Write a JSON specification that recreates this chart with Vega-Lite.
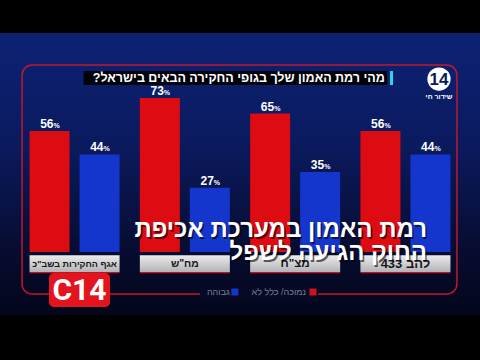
{
  "$schema": "https://vega.github.io/schema/vega-lite/v6.json",
  "width": 480,
  "height": 282,
  "autosize": "none",
  "padding": {"left": 0, "right": 0, "top": 33, "bottom": 45},
  "background": "#000000",
  "config": {"view": {"stroke": null}, "font": "Liberation Sans"},
  "data": {"values": [
    {"agency": "אגף החקירות בשב\"כ", "answer": "נמוכה/ כלל לא", "value": 56},
    {"agency": "אגף החקירות בשב\"כ", "answer": "גבוהה", "value": 44},
    {"agency": "מח\"ש", "answer": "נמוכה/ כלל לא", "value": 73},
    {"agency": "מח\"ש", "answer": "גבוהה", "value": 27},
    {"agency": "מצ\"ח", "answer": "נמוכה/ כלל לא", "value": 65},
    {"agency": "מצ\"ח", "answer": "גבוהה", "value": 35},
    {"agency": "להב 433", "answer": "נמוכה/ כלל לא", "value": 56},
    {"agency": "להב 433", "answer": "גבוהה", "value": 44}
  ]},
  "layer": [
    {
      "data": {"values": [{}]},
      "mark": {"type": "rect", "xOffset": -31, "x2Offset": 31,
        "color": {"gradient": "linear", "x1": 0, "y1": 0, "x2": 0, "y2": 1,
          "stops": [{"offset": 0, "color": "#0d2275"}, {"offset": 0.4, "color": "#0b1a5e"}, {"offset": 0.75, "color": "#070d33"}, {"offset": 1, "color": "#04061a"}]}},
      "encoding": {
        "x": {"datum": "אגף החקירות בשב\"כ", "bandPosition": 0, "axis": null,
          "scale": {"domain": ["אגף החקירות בשב\"כ", "מח\"ש", "מצ\"ח", "להב 433"], "paddingInner": 0.184, "paddingOuter": 0.268}},
        "x2": {"datum": "להב 433", "bandPosition": 1},
        "y": {"datum": 106.3, "type": "quantitative", "axis": null,
          "scale": {"domain": [-38.3, 106.3], "nice": false, "zero": false}},
        "y2": {"datum": -38.3}
      }
    },
    {
      "data": {"values": [{}]},
      "mark": {"type": "rect", "xOffset": -7.5, "x2Offset": 6.5, "fillOpacity": 0, "stroke": "#c0182c", "strokeWidth": 1.5, "cornerRadius": 10},
      "encoding": {
        "x": {"datum": "אגף החקירות בשב\"כ", "bandPosition": 0},
        "x2": {"datum": "להב 433", "bandPosition": 1},
        "y": {"datum": 89.9, "type": "quantitative"},
        "y2": {"datum": -27.5}
      }
    },
    {
      "data": {"values": [{}]},
      "mark": {"type": "rect", "fill": "#060a24"},
      "encoding": {
        "x": {"datum": "מח\"ש", "bandPosition": 0.668},
        "x2": {"datum": "מצ\"ח", "bandPosition": 0.754},
        "y": {"datum": -24.5, "type": "quantitative"},
        "y2": {"datum": -29.6}
      }
    },
    {
      "mark": {"type": "bar"},
      "encoding": {
        "x": {"field": "agency", "type": "nominal", "sort": null},
        "xOffset": {"field": "answer", "type": "nominal",
          "scale": {"domain": ["נמוכה/ כלל לא", "גבוהה"], "paddingInner": 0.2, "paddingOuter": 0}},
        "y": {"field": "value", "type": "quantitative"},
        "y2": {"datum": -6},
        "color": {"field": "answer", "type": "nominal", "legend": null,
          "scale": {"domain": ["נמוכה/ כלל לא", "גבוהה"], "range": ["#dc0c12", "#1436cc"]}}
      }
    },
    {
      "mark": {"type": "text", "align": "right", "baseline": "alphabetic", "dx": 4, "dy": -3, "fontSize": 12, "fontWeight": "bold", "color": "#ffffff"},
      "encoding": {
        "x": {"field": "agency", "type": "nominal", "sort": null},
        "xOffset": {"field": "answer", "type": "nominal"},
        "y": {"field": "value", "type": "quantitative"},
        "text": {"field": "value", "type": "quantitative"}
      }
    },
    {
      "mark": {"type": "text", "align": "left", "baseline": "alphabetic", "dx": 4, "dy": -3, "fontSize": 7, "fontWeight": "bold", "color": "#ffffff"},
      "encoding": {
        "x": {"field": "agency", "type": "nominal", "sort": null},
        "xOffset": {"field": "answer", "type": "nominal"},
        "y": {"field": "value", "type": "quantitative"},
        "text": {"value": "%"}
      }
    },
    {
      "data": {"values": [{"agency": "אגף החקירות בשב\"כ"}, {"agency": "מח\"ש"}, {"agency": "מצ\"ח"}, {"agency": "להב 433"}]},
      "mark": {"type": "rect",
        "color": {"gradient": "linear", "x1": 0, "y1": 0, "x2": 0, "y2": 1,
          "stops": [{"offset": 0, "color": "#ececec"}, {"offset": 1, "color": "#b4b4b8"}]}},
      "encoding": {
        "x": {"field": "agency", "type": "nominal", "sort": null},
        "y": {"datum": -7.6, "type": "quantitative"},
        "y2": {"datum": -16.2}
      }
    },
    {
      "data": {"values": [{"agency": "אגף החקירות בשב\"כ"}, {"agency": "מח\"ש"}, {"agency": "מצ\"ח"}, {"agency": "להב 433"}]},
      "mark": {"type": "rect", "fill": "#c0141e"},
      "encoding": {
        "x": {"field": "agency", "type": "nominal", "sort": null},
        "y": {"datum": -16.2, "type": "quantitative"},
        "y2": {"datum": -16.9}
      }
    },
    {
      "data": {"values": [{"agency": "אגף החקירות בשב\"כ"}, {"agency": "מח\"ש"}, {"agency": "מצ\"ח"}, {"agency": "להב 433"}]},
      "mark": {"type": "text", "baseline": "middle", "fontWeight": "bold", "color": "#16161c"},
      "encoding": {
        "x": {"field": "agency", "type": "nominal", "sort": null},
        "y": {"datum": -12.1, "type": "quantitative"},
        "text": {"field": "agency", "type": "nominal"},
        "size": {"field": "agency", "type": "nominal", "legend": null,
          "scale": {"domain": ["אגף החקירות בשב\"כ", "מח\"ש", "מצ\"ח", "להב 433"], "range": [9, 13, 12, 12]}}
      }
    },
    {
      "data": {"values": [{}]},
      "mark": {"type": "rect", "fill": "#000000", "opacity": 0.9},
      "encoding": {
        "x": {"datum": "אגף החקירות בשב\"כ", "bandPosition": 0.6},
        "x2": {"datum": "להב 433", "bandPosition": 0.295},
        "y": {"datum": 86.8, "type": "quantitative"},
        "y2": {"datum": 79.6}
      }
    },
    {
      "data": {"values": [{}]},
      "mark": {"type": "rect", "fill": "#2cd3ea"},
      "encoding": {
        "x": {"datum": "להב 433", "bandPosition": 0.328},
        "x2": {"datum": "להב 433", "bandPosition": 0.362},
        "y": {"datum": 86.8, "type": "quantitative"},
        "y2": {"datum": 79.6}
      }
    },
    {
      "data": {"values": [{}]},
      "mark": {"type": "text", "align": "right", "baseline": "middle", "fontSize": 12.5, "fontWeight": "bold", "color": "#ffffff"},
      "encoding": {
        "x": {"datum": "להב 433", "bandPosition": 0.27},
        "y": {"datum": 83.2, "type": "quantitative"},
        "text": {"value": "מהי רמת האמון שלך בגופי החקירה הבאים בישראל?‏"}
      }
    },
    {
      "data": {"values": [{}]},
      "mark": {"type": "point", "shape": "circle", "filled": true, "size": 540, "color": "#ffffff", "opacity": 1},
      "encoding": {
        "x": {"datum": "להב 433", "bandPosition": 0.873},
        "y": {"datum": 82.7, "type": "quantitative"}
      }
    },
    {
      "data": {"values": [{}]},
      "mark": {"type": "text", "align": "center", "baseline": "middle", "fontSize": 17, "fontWeight": "bold", "color": "#0b1a5c", "dy": 1},
      "encoding": {
        "x": {"datum": "להב 433", "bandPosition": 0.873},
        "y": {"datum": 82.7, "type": "quantitative"},
        "text": {"value": "14"}
      }
    },
    {
      "data": {"values": [{}]},
      "mark": {"type": "text", "align": "center", "baseline": "middle", "fontSize": 7, "fontWeight": "bold", "color": "#ffffff"},
      "encoding": {
        "x": {"datum": "להב 433", "bandPosition": 0.873},
        "y": {"datum": 73.5, "type": "quantitative"},
        "text": {"value": "שידור חי"}
      }
    },
    {
      "data": {"values": [{}]},
      "mark": {"type": "point", "shape": "square", "filled": true, "size": 49, "color": "#d0101c", "opacity": 1},
      "encoding": {
        "x": {"datum": "מצ\"ח", "bandPosition": 0.698},
        "y": {"datum": -26.5, "type": "quantitative"}
      }
    },
    {
      "data": {"values": [{}]},
      "mark": {"type": "text", "align": "right", "baseline": "middle", "fontSize": 9, "color": "#7c8098"},
      "encoding": {
        "x": {"datum": "מצ\"ח", "bandPosition": 0.62},
        "y": {"datum": -26.5, "type": "quantitative"},
        "text": {"value": "נמוכה/ כלל לא"}
      }
    },
    {
      "data": {"values": [{}]},
      "mark": {"type": "point", "shape": "square", "filled": true, "size": 49, "color": "#1436cc", "opacity": 1, "xOffset": 5},
      "encoding": {
        "x": {"datum": "מח\"ש", "bandPosition": 1},
        "y": {"datum": -26.5, "type": "quantitative"}
      }
    },
    {
      "data": {"values": [{}]},
      "mark": {"type": "text", "align": "right", "baseline": "middle", "fontSize": 9, "color": "#7c8098", "dx": 0},
      "encoding": {
        "x": {"datum": "מח\"ש", "bandPosition": 1},
        "y": {"datum": -26.5, "type": "quantitative"},
        "text": {"value": "גבוהה"}
      }
    },
    {
      "data": {"values": [{}]},
      "mark": {"type": "rect", "fill": "#e3141e", "cornerRadius": 5},
      "encoding": {
        "x": {"datum": "אגף החקירות בשב\"כ", "bandPosition": 0.216},
        "x2": {"datum": "אגף החקירות בשב\"כ", "bandPosition": 0.894},
        "y": {"datum": -16.8, "type": "quantitative"},
        "y2": {"datum": -34.2}
      }
    },
    {
      "data": {"values": [{}]},
      "mark": {"type": "text", "align": "center", "baseline": "middle", "fontSize": 30, "fontWeight": "bold", "color": "#ffffff", "font": "Roboto", "dy": 1},
      "encoding": {
        "x": {"datum": "אגף החקירות בשב\"כ", "bandPosition": 0.555},
        "y": {"datum": -25.5, "type": "quantitative"},
        "text": {"value": "C14"}
      }
    },
    {
      "data": {"values": [{"line": "רמת האמון במערכת אכיפת", "pos": 1.69}, {"line": "החוק הגיעה לשפל", "pos": -10.1}]},
      "mark": {"type": "text", "align": "right", "baseline": "alphabetic", "fontSize": 24, "fontWeight": "bold", "color": "#000000", "opacity": 0.6, "dx": -10.5, "dy": 1.5},
      "encoding": {
        "x": {"datum": "להב 433", "bandPosition": 0.873},
        "y": {"field": "pos", "type": "quantitative"},
        "text": {"field": "line", "type": "nominal"}
      }
    },
    {
      "data": {"values": [{"line": "רמת האמון במערכת אכיפת", "pos": 1.69}, {"line": "החוק הגיעה לשפל", "pos": -10.1}]},
      "mark": {"type": "text", "align": "right", "baseline": "alphabetic", "fontSize": 24, "fontWeight": "bold", "color": "#ffffff", "dx": -12},
      "encoding": {
        "x": {"datum": "להב 433", "bandPosition": 0.873},
        "y": {"field": "pos", "type": "quantitative"},
        "text": {"field": "line", "type": "nominal"}
      }
    }
  ]
}
